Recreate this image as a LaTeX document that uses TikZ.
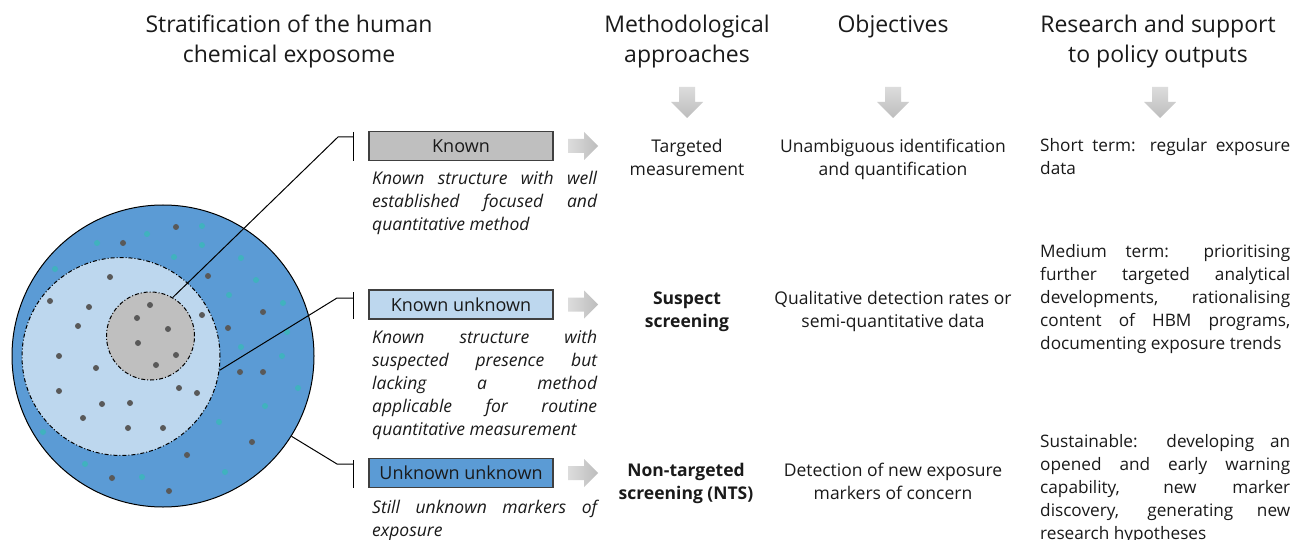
\documentclass[tikz,border=0pt]{standalone}
\usepackage{fontspec}
\setmainfont{Open Sans}
\definecolor{outerblue}{HTML}{5B9BD5}
\definecolor{lightblue}{HTML}{BDD7EE}
\definecolor{coregrey}{HTML}{BFBFBF}
\definecolor{dotdark}{HTML}{595959}
\definecolor{dotteal}{HTML}{40B2BE}
\definecolor{arrowlight}{HTML}{DCDCDC}
\definecolor{arrowdark}{HTML}{BDBDBD}
\definecolor{boxedge}{HTML}{404040}
\definecolor{txt}{HTML}{1A1A1A}
\tikzset{
  hdr/.style={font=\fontsize{23}{30}\selectfont, align=center, anchor=north, inner sep=0, text=txt},
  ctext/.style={font=\fontsize{17.5}{23}\selectfont, align=center, anchor=north, inner sep=0, text=txt},
  jtext/.style={font=\fontsize{17.2}{23}\selectfont, anchor=north west, inner sep=0, text width=250pt, align=justify, text=txt},
  itext/.style={font=\fontsize{17.5}{23}\selectfont\itshape, anchor=north west, inner sep=0, text width=225pt, align=justify, text=txt},
  catbox/.style={draw=boxedge, line width=1.3pt, minimum width=184pt, minimum height=29pt, inner sep=0, font=\fontsize{18}{22}\selectfont, text=txt},
  ring/.style={circle, inner sep=0, draw=black, line width=1pt},
  dashring/.style={circle, inner sep=0, draw=black, line width=1pt, dash pattern=on 4pt off 2pt on 1pt off 2pt},
  dd/.style={fill=dotdark},
  dt/.style={fill=dotteal},
  lead/.style={draw=black, line width=1pt},
  rarrow/.pic={\shade[left color=arrowlight, right color=arrowdark] (0,-7) -- (16,-7) -- (16,-14) -- (30,0) -- (16,14) -- (16,7) -- (0,7) -- cycle;},
  darrow/.pic={\shade[top color=arrowlight, bottom color=arrowdark] (-8,0) -- (8,0) -- (8,15) -- (16,15) -- (0,31) -- (-16,15) -- (-8,15) -- cycle;},
}
\begin{document}
\begin{tikzpicture}[x=1pt,y=-1pt]
\useasboundingbox[fill=white] (0,0) rectangle (1301,540);

% headers
\node[hdr] (h1) at (289,11) {\strut Stratification of the human\\chemical exposome};
\node[hdr] (h2) at (687,11) {\strut Methodological\\approaches};
\node[hdr] (h3) at (893,11) {\strut Objectives};
\node[hdr] (h4) at (1158,11) {\strut Research and support\\to policy outputs};

% down arrows
\pic at (687,87) {darrow};
\pic at (893,87) {darrow};
\pic at (1160,87) {darrow};

% circles
\node[ring, fill=outerblue, minimum size=302pt] (outer) at (163,356) {};
\node[dashring, fill=lightblue, minimum size=198pt] (light) at (121,356.5) {};
\node[dashring, fill=coregrey, minimum size=88pt] (core) at (150.5,336) {};

% dots
\foreach \x/\y in {176/227,123/243,110/277,208/276,50/301,89/307,150/305,137/318,202/315,263/312,78/326,168/329,228/328,138/343,176/355,59/356,96/368,156/365,240/372,263/372,59/391,179/388,197/393,102/404,130/403,83/418,128/428,163/428,252/442,187/455,112/478,169/491}
  \fill[dd] (\x,\y) circle (3pt);
\foreach \x/\y in {202/226,147/234,97/243,202/245,174/257,55/269,241/258,256/280,229/295,283/303,287/332,241/347,282/356,298/388,265/406,219/422,43/432,85/464,142/477,225/472}
  \fill[dt] (\x,\y) circle (3pt);

% category boxes
\node[catbox, fill=coregrey] (known) at (461,146) {Known};
\node[catbox, fill=lightblue] (ku) at (461,304.5) {Known unknown};
\node[catbox, fill=outerblue] (uu) at (461,473) {Unknown unknown};

% leaders and bars
\coordinate (k1) at (338,137);
\coordinate (k2) at (353,137);
\coordinate (kt) at (353,132);
\coordinate (kb) at (353,161);
\draw[lead] (core.60) -- (k1) -- (k2);
\draw[lead] (kt) -- (kb);

\coordinate (u1) at (337,298);
\coordinate (u2) at (353,298);
\coordinate (ut) at (353,292);
\coordinate (ub) at (353,319);
\draw[lead] (light.-8) -- (u1) -- (u2);
\draw[lead] (ut) -- (ub);

\coordinate (n1) at (337,464);
\coordinate (n2) at (353,464);
\coordinate (nt) at (353,460);
\coordinate (nb) at (353,488);
\draw[lead] (outer.-32) -- (n1) -- (n2);
\draw[lead] (nt) -- (nb);

% right arrows
\pic at (568,146) {rarrow};
\pic at (568,304.5) {rarrow};
\pic at (568,473) {rarrow};

% descriptions
\node[itext] (d1) at (372,168) {\hyphenpenalty=10000\strut Known structure with well\linebreak established focused and\linebreak quantitative method};
\node[itext] (d2) at (372,327) {\hyphenpenalty=10000\strut Known structure with\linebreak suspected presence but\linebreak lacking a method\linebreak applicable for routine\linebreak quantitative measurement};
\node[itext] (d3) at (372,497) {\hyphenpenalty=10000\strut Still unknown markers of\linebreak exposure};

% methodological approaches
\node[ctext] (m1) at (687,136) {\strut Targeted\\measurement};
\node[ctext, font=\fontsize{17.5}{23}\selectfont\bfseries] (m2) at (687,288) {\strut Suspect\\screening};
\node[ctext, font=\fontsize{17.5}{23}\selectfont\bfseries] (m3) at (686,460) {\strut Non-targeted\\screening (NTS)};

% objectives
\node[ctext] (o1) at (893,136) {\strut Unambiguous identification\\and quantification};
\node[ctext] (o2) at (893,288) {\strut Qualitative detection rates or\\semi-quantitative data};
\node[ctext] (o3) at (893,460) {\strut Detection of new exposure\\markers of concern};

% outputs
\node[jtext] (r1) at (1040,135) {\hyphenpenalty=10000\strut Short term: regular exposure\linebreak data};
\node[jtext] (r2) at (1040,241) {\hyphenpenalty=10000\strut Medium term: prioritising\linebreak further targeted analytical\linebreak developments, rationalising\linebreak content of HBM programs,\linebreak documenting exposure trends};
\node[jtext] (r3) at (1040,431) {\hyphenpenalty=10000\strut Sustainable: developing an\linebreak opened and early warning\linebreak capability, new marker\linebreak discovery, generating new\linebreak research hypotheses};
\end{tikzpicture}
\end{document}
